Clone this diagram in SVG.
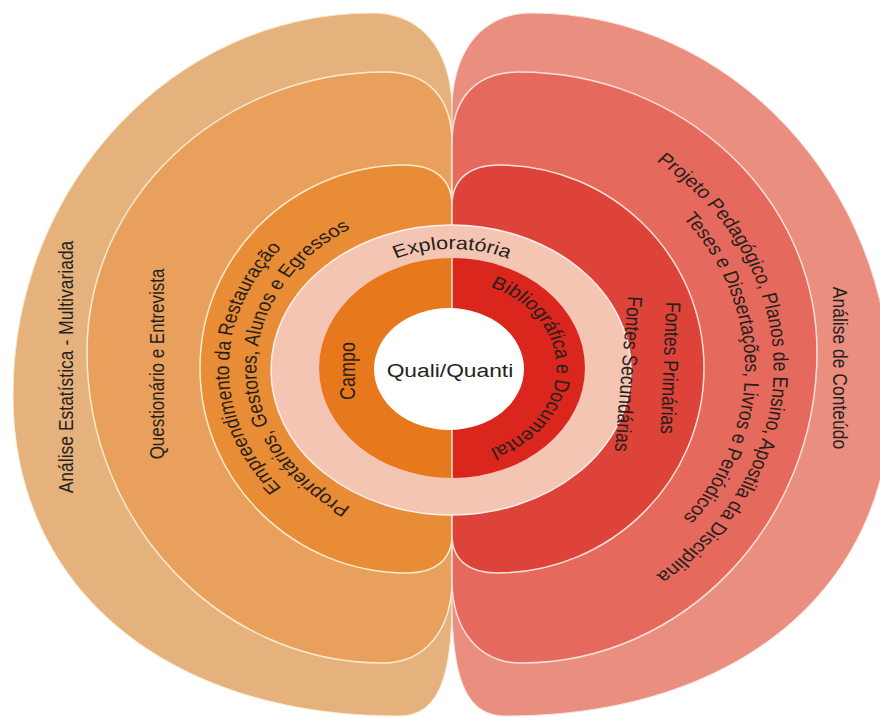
<svg xmlns="http://www.w3.org/2000/svg" xmlns:xlink="http://www.w3.org/1999/xlink" width="880" height="718" viewBox="0 0 880 718">
<style>
.lo{fill:#E5B27D;stroke:#FCEBCB;stroke-width:1;}
.lm{fill:#E8A05C;stroke:#FCEBCB;stroke-width:1.5;}
.li{fill:#E98C36;stroke:#FCEBCB;stroke-width:1.5;}
.ro{fill:#EA8E80;stroke:#FBE1D8;stroke-width:1;}
.rm{fill:#E6695D;stroke:#FBE1D8;stroke-width:1.5;}
.ri{fill:#DD4339;stroke:#FBE1D8;stroke-width:1.5;}
.t{font-family:'Liberation Sans',Arial,sans-serif;font-size:17.5px;fill:#261f1c;}
.c{text-anchor:middle;dominant-baseline:central;}
</style>
<defs>
<path id="pExpl" d="M452,487 A119,119 0 1 1 452,249 A119,119 0 1 1 452,487"/>
<path id="pBib" d="M365,368 A87,87 0 1 1 539,368 A87,87 0 1 1 365,368"/>
<path id="pProj" d="M184,368 A268,268 0 1 1 720,368 A268,268 0 1 1 184,368"/>
<path id="pTeses" d="M208,368 A244,244 0 1 1 696,368 A244,244 0 1 1 208,368"/>
<path id="pEmp" d="M638,368 A186,186 0 1 1 266,368 A186,186 0 1 1 638,368"/>
<path id="pProp" d="M615,368 A163,163 0 1 1 289,368 A163,163 0 1 1 615,368"/>
</defs>
<rect width="880" height="718" fill="#FFFFFF"/>
<g id="node-analise-estatistica"><path class="lo" d="M452,600 L452,110 C452,55 425,13 372,13 C174.5,13 13,185 13,395 C13,588 167,716 398,716 C435,716 452,685 452,600 Z"/></g>
<g id="node-analise-conteudo"><path class="ro" d="M452,600 L452,110 C452,55 479,13 532,13 C729.5,13 891,185 891,395 C891,588 737,716 506,716 C469,716 452,685 452,600 Z"/></g>
<g id="node-questionario"><path class="lm" d="M452,580 L452,143 C452,100 430,72 385,72 C221,72 87,198 87,352 C87,523 220,663 383,663 C425,663 452,630 452,580 Z"/></g>
<g id="node-projeto"><path class="rm" d="M452,580 L452,143 C452,100 474,72 519,72 C683,72 817,198 817,352 C817,523 684,663 521,663 C479,663 452,630 452,580 Z"/></g>
<g id="node-proprietarios"><path class="li" d="M452,535 L452,205 C452,180 435,165 405,165 C292,165 200,256 200,368 C200,481 293,573 407,573 C435,573 452,560 452,535 Z"/></g>
<g id="node-fontes"><path class="ri" d="M452,535 L452,205 C452,180 469,165 499,165 C612,165 704,256 704,368 C704,481 611,573 497,573 C469,573 452,560 452,535 Z"/></g>
<g id="node-exploratoria"><ellipse cx="451" cy="370" rx="180" ry="145" fill="#F5C5B4" stroke="#FDF0EA" stroke-width="1.5"/></g>
<g id="node-campo"><path d="M452,258 A133,110 0 0 0 452,478 Z" fill="#E8781C"/></g>
<g id="node-bibliografica"><path d="M452,258 A133,110 0 0 1 452,478 Z" fill="#DB261D"/></g>
<g id="connectors"><line x1="452" y1="258" x2="452" y2="478" stroke="#FBE7DE" stroke-width="1.5"/></g>
<g id="node-quali"><ellipse cx="449" cy="369" rx="75" ry="61" fill="#FFFFFF"/></g>
<g id="labels" transform="matrix(1.2 0 0 1 -90.4 0)">
<text class="t c" transform="translate(130,367) rotate(-90)">Análise Estatística - Multivariada</text>
<text class="t c" transform="translate(206,364) rotate(-90)" style="font-size:17px">Questionário e Entrevista</text>
<text class="t c" transform="translate(364.5,371) rotate(-90)" style="font-size:18px">Campo</text>
<text class="t c" transform="translate(775,368) rotate(90)">Análise de Conteúdo</text>
<text class="t c" transform="translate(634,368) rotate(92)">Fontes Primárias</text>
<text class="t c" transform="translate(599,374) rotate(94)">Fontes Secundárias</text>
<text class="t c" x="450.3" y="370" style="font-size:19px">Quali/Quanti</text>
<text class="t" style="font-size:18px"><textPath xlink:href="#pExpl" href="#pExpl" startOffset="50%" text-anchor="middle">Exploratória</textPath></text>
<text class="t"><textPath xlink:href="#pBib" href="#pBib" startOffset="50%" text-anchor="middle">Bibliográfica e Documental</textPath></text>
<text class="t"><textPath xlink:href="#pProj" href="#pProj" startOffset="50%" text-anchor="middle">Projeto Pedagógico, Planos de Ensino, Apostila da Disciplina</textPath></text>
<text class="t"><textPath xlink:href="#pTeses" href="#pTeses" startOffset="50%" text-anchor="middle">Teses e Dissertações, Livros e Periódicos</textPath></text>
<text class="t"><textPath xlink:href="#pEmp" href="#pEmp" startOffset="50%" text-anchor="middle">Empreendimento da Restauração</textPath></text>
<text class="t"><textPath xlink:href="#pProp" href="#pProp" startOffset="50%" text-anchor="middle">Proprietários, Gestores, Alunos e Egressos</textPath></text>
</g>
</svg>
